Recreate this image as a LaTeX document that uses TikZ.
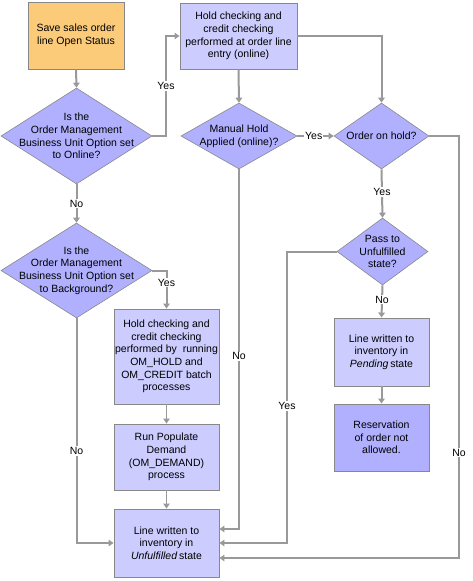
\documentclass[tikz,border=0pt]{standalone}
\usepackage{fontspec}
\setmainfont{Liberation Sans}
\usetikzlibrary{shapes.geometric,arrows.meta,calc}
\definecolor{orangefill}{HTML}{FBCB7A}
\definecolor{diafill}{HTML}{B0B0FF}
\definecolor{boxfill}{HTML}{CCCCFF}
\definecolor{darkbox}{HTML}{B0B0FF}
\definecolor{edgecol}{HTML}{888888}
\definecolor{linecol}{HTML}{999999}
\begin{document}
\begin{tikzpicture}[x=1pt,y=-1pt,
  font=\fontsize{10.5}{12.7}\selectfont,
  box/.style={draw=edgecol, line width=0.9pt, fill=boxfill, align=center, inner sep=0pt},
  startbox/.style={box, fill=orangefill},
  endbox/.style={box, fill=darkbox},
  dia/.style={diamond, draw=edgecol, line width=0.6pt, fill=diafill, inner sep=0pt},
  txt/.style={align=center, inner sep=0pt},
  conn/.style={draw=linecol, line width=2pt, -{Triangle[length=5pt,width=6.5pt]}},
  thinconn/.style={draw=linecol, line width=1pt, -{Triangle[length=5pt,width=6.5pt]}},
  lbl/.style={fill=white, inner sep=1pt, text=black}
]
\useasboundingbox (0,0) rectangle (472,581);

% boxes
\node[startbox, minimum width=96, minimum height=67] (b1) at (76,35.5) {Save sales order\\line Open Status};
\node[box, minimum width=117, minimum height=66] (b3) at (238.5,36) {Hold checking and\\credit checking\\performed at order line\\entry (online)};
\node[box, minimum width=95, minimum height=68] (b7) at (381.5,352) {Line written to\\inventory in\\\textit{Pending}\,state};
\node[endbox, minimum width=95, minimum height=67] (b8) at (381.5,437.5) {Reservation\\of order not\\allowed.};
\node[box, minimum width=105, minimum height=95] (b10) at (166.5,356.5) {Hold checking and\\credit checking\\performed by\ \ running\\OM\_HOLD and\\OM\_CREDIT batch\\processes};
\node[box, minimum width=105, minimum height=66] (b11) at (166.5,457) {Run Populate\\Demand\\(OM\_DEMAND)\\process};
\node[box, minimum width=105, minimum height=68] (b12) at (166.5,543) {Line written to\\inventory in\\\textit{Unfulfilled}\,state};

% diamonds
\node[dia, minimum width=151, minimum height=96] (d1) at (76.5,136) {};
\node[txt] (d1t) at (d1) {Is the\\Order Management\\Business Unit Option set\\to Online?};
\node[dia, minimum width=116, minimum height=66] (d4) at (239,136) {};
\node[txt] (d4t) at (d4) {Manual Hold\\Applied (online)?};
\node[dia, minimum width=95, minimum height=66] (d5) at (381.5,136) {};
\node[txt] (d5t) at (d5) {Order on hold?};
\node[dia, minimum width=91, minimum height=67] (d6) at (382.5,251.5) {};
\node[txt] (d6t) at (d6) {Pass to\\Unfulfilled\\state?};
\node[dia, minimum width=151, minimum height=95] (d9) at (76.5,270.5) {};
\node[txt] (d9t) at (d9) {Is the\\Order Management\\Business Unit Option set\\to Background?};

% connectors
\draw[conn] (b1.south) -- (d1.north);
\draw[conn] (d1.east) -- (166,136) -- node[lbl,pos=0.5] (y1) {Yes} (166,36) -- (b3.west);
\draw[conn] (b3.south) -- (d4.north);
\draw[conn] (b3.east) -| (d5.north);
\draw[conn] (d4.east) -- node[lbl,pos=0.45] (y2) {Yes} (d5.west);
\draw[conn] (d5.east) -- (459,136) -- node[lbl,pos=0.75] (n1) {No} (459,558) -- ($(b12.east)+(0,15)$);
\draw[conn] (d5.south) -- node[lbl,pos=0.47] (y3) {Yes} (d6.north);
\draw[conn] (d6.west) -- (287,251.5) -- node[lbl,pos=0.53] (y4) {Yes} (287,543) -- (b12.east);
\draw[conn] (d6.south) -- node[lbl,pos=0.45] (n2) {No} (b7.north);
\draw[conn] (b7.south) -- (b8.north);
\draw[conn] (d4.south) -- node[lbl,pos=0.52] (n3) {No} (239,529) -- ($(b12.east)+(0,-14)$);
\draw[conn] (d1.south) -- node[lbl,pos=0.5] (n4) {No} (d9.north);
\draw[conn] (d9.east) -- (166.5,270.5) -- node[lbl,pos=0.32] (y5) {Yes} (b10.north);
\draw[thinconn] (b10.south) -- (b11.north);
\draw[thinconn] (b11.south) -- (b12.north);
\draw[conn] (d9.south) -- node[lbl,pos=0.59] (n5) {No} (76.5,543) -- (b12.west);
\end{tikzpicture}
\end{document}
